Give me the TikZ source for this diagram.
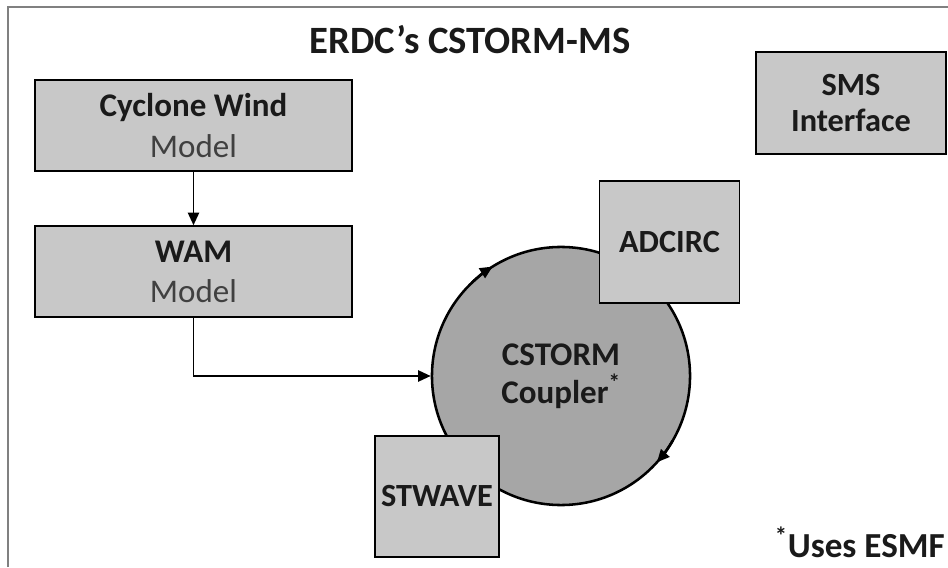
\documentclass[tikz,border=0pt]{standalone}
\usepackage{fontspec}
\setmainfont{Carlito}
\usepackage{tikz}
\usetikzlibrary{shapes,arrows.meta,positioning,calc}
\usepackage{xcolor}
\definecolor{boxgray}{RGB}{200,200,200}
\definecolor{ringgray}{RGB}{166,166,166}
\definecolor{framegray}{RGB}{128,128,128}
\definecolor{textdark}{RGB}{26,26,26}
\definecolor{textmid}{RGB}{64,64,64}

\begin{document}
\begin{tikzpicture}[
    x=0.025cm, y=0.025cm,
    flow/.style={line width=1.3pt, -{Triangle[length=9pt,width=8pt]}},
    box/.style={rectangle, draw, line width=1.3pt, fill=boxgray, align=center, inner sep=0pt,
        text=textdark, font=\fontsize{23}{25}\selectfont\bfseries},
    model/.style={box, minimum width=7.93cm, minimum height=2.28cm,
        font=\fontsize{23.5}{28.5}\selectfont},
    coupler/.style={circle, draw, line width=1.8pt, fill=ringgray, minimum size=6.45cm, inner sep=0pt,
        align=center, text=textdark, font=\fontsize{23.5}{27}\selectfont\bfseries}
]
    \useasboundingbox (0,0) rectangle (948,567);
    % Frame
    \draw[framegray, line width=1.4pt] (8,0) -- (8,560) -- (948,560);

    % Title
    \node[font=\fontsize{27.5}{33}\selectfont\bfseries, text=textdark] (title) at (470,527) {ERDC’s CSTORM-MS};

    % Left chain
    \node[model] (wind) at (193.5,441.5) {\textbf{Cyclone Wind}\\\textcolor{textmid}{Model}};
    \node[model, below=1.33cm of wind] (wam) {\textbf{WAM}\\\textcolor{textmid}{Model}};

    % Coupler and models around it
    \node[coupler] (cpl) at (561,191) {CSTORM\\Coupler\textsuperscript{*}};
    \node[box, minimum width=3.5cm, minimum height=3.03cm] (adcirc) at (669.5,325) {ADCIRC};
    \node[box, minimum width=3.1cm, minimum height=3.03cm] (stwave) at (437,70.5) {STWAVE};
    \node[box, minimum width=4.75cm, minimum height=2.55cm] (sms) at (851,464) {SMS\\Interface};

    % Note
    \node[anchor=base east, inner sep=0pt, text=textdark, font=\fontsize{25}{30}\selectfont\bfseries] (note) at (945,10) {\textsuperscript{*}Uses ESMF};

    % Edges
    \draw[flow] (wind) -- (wam);
    \draw[flow] (wam.south) |- (cpl.west);

    % Direction marks on the ring
    \draw[flow, line width=1.8pt] ([shift={(134:3.225cm)}]cpl.center) arc[start angle=134, end angle=122, radius=3.225cm];
    \draw[flow, line width=1.8pt] ([shift={(-30:3.225cm)}]cpl.center) arc[start angle=-30, end angle=-42, radius=3.225cm];
\end{tikzpicture}
\end{document}
